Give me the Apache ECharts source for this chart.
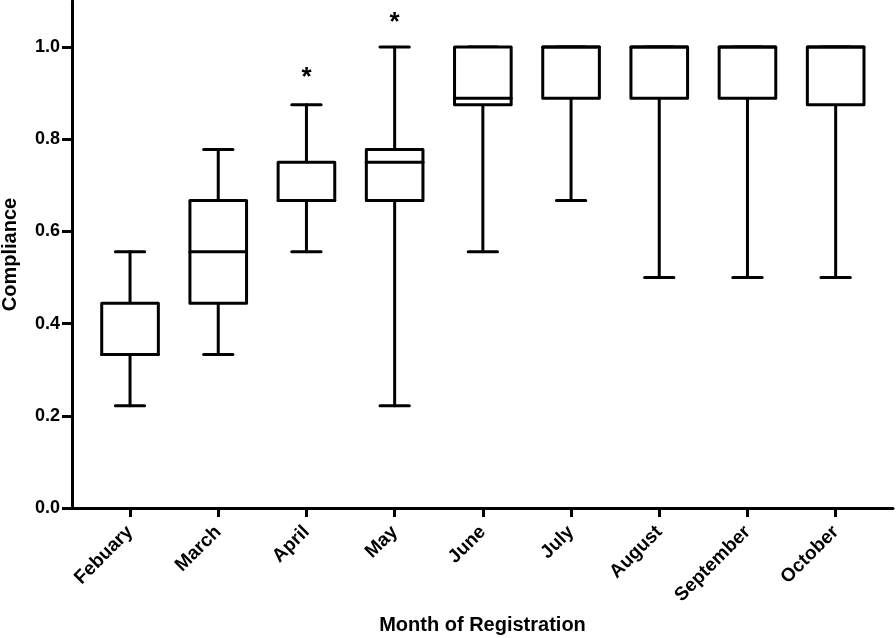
<!DOCTYPE html>
<html>
<head>
<meta charset="utf-8">
<script src="https://cdn.jsdelivr.net/npm/echarts@6/dist/echarts.min.js"></script>
<style>
  html, body { margin: 0; padding: 0; background: #fff; }
  #main { width: 896px; height: 638px; }
</style>
</head>
<body>
<div id="main"></div>
<script>
// 月份
var months = ['Febuary', 'March', 'April', 'May', 'June', 'July', 'August', 'September', 'October'];
// 箱线图数值
var whiskerLow  = [0.222, 0.333, 0.556, 0.222, 0.556, 0.667, 0.5, 0.5, 0.5];
var quart1      = [0.333, 0.444, 0.667, 0.667, 0.875, 0.889, 0.889, 0.889, 0.875];
var medians     = [0.333, 0.556, 0.667, 0.75, 0.889, 1.0, 1.0, 1.0, 1.0];
var quart3      = [0.444, 0.667, 0.75, 0.778, 1.0, 1.0, 1.0, 1.0, 1.0];
var whiskerHigh = [0.556, 0.778, 0.875, 1.0, 1.0, 1.0, 1.0, 1.0, 1.0];
// 星号标记
var starMonths = ['April', 'May'];
var starValues = [0.946, 1.065];
// 刻度
var yTicks = [0, 0.2, 0.4, 0.6, 0.8, 1.0];
var xTicks = [0, 1, 2, 3, 4, 5, 6, 7, 8];

var FONT = "'Liberation Sans', Arial, sans-serif";
var boxData = months.map(function (m, i) {
    return [i, whiskerLow[i], quart1[i], medians[i], quart3[i], whiskerHigh[i]];
});
var starData = starMonths.map(function (m, i) {
    return [months.indexOf(m), starValues[i]];
});

function renderBox(params, api) {
    var i = api.value(0);
    var unit = api.size([1, 0])[0];
    var bw = unit * 0.321, cw = unit * 0.166;
    var x = api.coord([i, 0])[0];
    var yLow = api.coord([i, api.value(1)])[1];
    var yQ1 = api.coord([i, api.value(2)])[1];
    var yMed = api.coord([i, api.value(3)])[1];
    var yQ3 = api.coord([i, api.value(4)])[1];
    var yHigh = api.coord([i, api.value(5)])[1];
    var st = { stroke: '#000', lineWidth: 3, fill: null, lineCap: 'round', lineJoin: 'round' };
    return {
        type: 'group',
        children: [
            { type: 'line', shape: { x1: x, y1: yQ1, x2: x, y2: yLow }, style: st },
            { type: 'line', shape: { x1: x, y1: yQ3, x2: x, y2: yHigh }, style: st },
            { type: 'line', shape: { x1: x - cw, y1: yLow, x2: x + cw, y2: yLow }, style: st },
            { type: 'line', shape: { x1: x - cw, y1: yHigh, x2: x + cw, y2: yHigh }, style: st },
            { type: 'rect', shape: { x: x - bw, y: yQ3, width: bw * 2, height: yQ1 - yQ3 },
              style: { stroke: '#000', lineWidth: 3, fill: '#fff', lineJoin: 'round' } },
            { type: 'line', shape: { x1: x - bw, y1: yMed, x2: x + bw, y2: yMed }, style: st }
        ]
    };
}

function renderStar(params, api) {
    var p = api.coord([api.value(0), api.value(1)]);
    return {
        type: 'text',
        x: p[0], y: p[1] + 6,
        style: { text: '*', fill: '#000', font: 'bold 26px ' + FONT, align: 'center', verticalAlign: 'middle' }
    };
}

var myChart = echarts.init(document.getElementById('main'));
myChart.setOption({
    backgroundColor: '#fff',
    animation: false,
    grid: { left: 72, right: 3, top: 1, bottom: 130, outerBoundsMode: 'none' },
    xAxis: {
        type: 'value',
        min: -0.658,
        max: 8.65,
        name: 'Month of Registration',
        nameLocation: 'middle',
        nameGap: 107,
        nameTextStyle: { fontFamily: FONT, fontWeight: 'bold', fontSize: 20, color: '#000' },
        axisLine: { onZero: false, lineStyle: { color: '#000', width: 3 } },
        axisTick: { customValues: xTicks, length: 9, lineStyle: { color: '#000', width: 3 } },
        axisLabel: {
            customValues: xTicks,
            rotate: 45,
            margin: 21,
            fontFamily: FONT, fontWeight: 'bold', fontSize: 19, color: '#000',
            formatter: function (v) { return months[Math.round(v)]; }
        },
        splitLine: { show: false }
    },
    yAxis: {
        type: 'value',
        min: 0,
        max: 1.1,
        name: 'Compliance',
        nameLocation: 'middle',
        nameGap: 52,
        nameTextStyle: { fontFamily: FONT, fontWeight: 'bold', fontSize: 20, color: '#000' },
        axisLine: { show: true, onZero: false, lineStyle: { color: '#000', width: 3 } },
        axisTick: { show: true, customValues: yTicks, length: 10, lineStyle: { color: '#000', width: 3 } },
        axisLabel: {
            customValues: yTicks,
            margin: 12,
            fontFamily: FONT, fontWeight: 'bold', fontSize: 18, color: '#000',
            formatter: function (v) { return v.toFixed(1); }
        },
        splitLine: { show: false }
    },
    series: [
        { type: 'custom', renderItem: renderBox, data: boxData, clip: false },
        { type: 'custom', renderItem: renderStar, data: starData, clip: false }
    ]
});
</script>
</body>
</html>
